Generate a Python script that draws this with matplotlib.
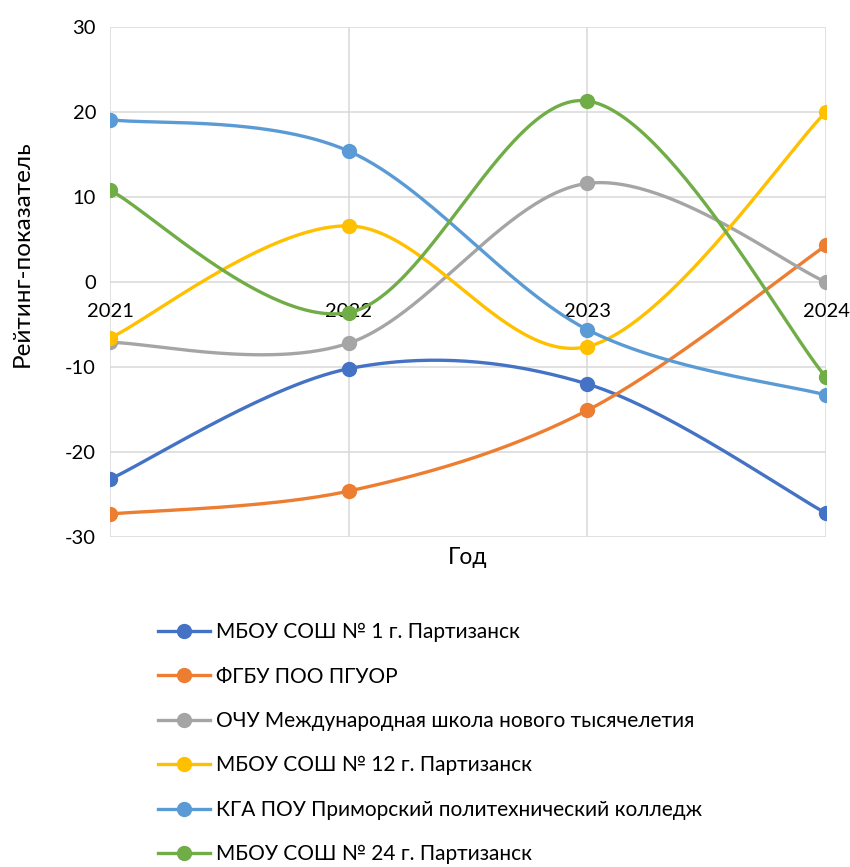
import numpy as np
import matplotlib
matplotlib.use("Agg")
import matplotlib.pyplot as plt
from matplotlib.lines import Line2D

plt.rcParams['font.family'] = ['Lato', 'DejaVu Sans']
plt.rcParams['axes.unicode_minus'] = False

years = ["2021", "2022", "2023", "2024"]
s1 = [-23.2, -10.2, -12.0, -27.2]
s2 = [-27.3, -24.6, -15.1, 4.3]
s3 = [-7.1, -7.2, 11.6, 0.0]
s4 = [-6.6, 6.6, -7.6, 20.0]
s5 = [19.1, 15.4, -5.6, -13.3]
s6 = [10.8, -3.6, 21.3, -11.2]
names = ["МБОУ СОШ № 1 г. Партизанск", "ФГБУ ПОО ПГУОР",
         "ОЧУ Международная школа нового тысячелетия",
         "МБОУ СОШ № 12 г. Партизанск",
         "КГА ПОУ Приморский политехнический колледж",
         "МБОУ СОШ № 24 г. Партизанск"]
colors = ["#4472C4", "#ED7D31", "#A5A5A5", "#FFC000", "#5B9BD5", "#70AD47"]
series = [s1, s2, s3, s4, s5, s6]


def smooth(x, y, n=60):
    x = np.asarray(x, float)
    y = np.asarray(y, float)
    P = np.column_stack([x, y])
    out = []
    m = len(P)
    for i in range(m - 1):
        p0 = P[i - 1] if i > 0 else P[i]
        p1 = P[i]
        p2 = P[i + 1]
        p3 = P[i + 2] if i + 2 < m else P[i + 1]
        c1 = p1 + (p2 - p0) / 6.0
        c2 = p2 - (p3 - p1) / 6.0
        t = np.linspace(0, 1, n)[:, None]
        b = ((1 - t) ** 3) * p1 + 3 * ((1 - t) ** 2) * t * c1 + 3 * (1 - t) * t ** 2 * c2 + t ** 3 * p2
        out.append(b if i == 0 else b[1:])
    b = np.vstack(out)
    return b[:, 0], b[:, 1]


fig = plt.figure(figsize=(8.5, 8.67), dpi=100)
ax = fig.add_axes([110 / 850, 1 - 537 / 867, (826 - 110) / 850, (537 - 27) / 867])

xs = np.arange(len(years))
for ys, c in zip(series, colors):
    sx, sy = smooth(xs, ys)
    ax.plot(sx, sy, color=c, lw=2.4, solid_capstyle='round', zorder=3)
    ax.plot(xs, ys, 'o', color=c, ms=10, zorder=4)

ax.set_xlim(0, 3)
ax.set_ylim(-30, 30)
ax.set_yticks(np.arange(-30, 31, 10))
ax.set_xticks(xs)
ax.set_xticklabels(years)
ax.grid(True, color='#D9D9D9', lw=1.1, zorder=0)
ax.set_axisbelow(True)
for sp in ['top', 'right', 'left']:
    ax.spines[sp].set_visible(False)
ax.spines['bottom'].set_position(('data', 0))
ax.spines['bottom'].set_visible(False)
ax.tick_params(axis='both', length=0, labelsize=14.5, colors='black')
ax.tick_params(axis='x', pad=15)
ax.tick_params(axis='y', pad=10)
for lab in ax.get_xticklabels():
    lab.set_clip_on(False)

fig.text(468 / 850, 1 - 558 / 867, "Год", ha='center', va='center', fontsize=16.5)
fig.text(22 / 850, 1 - 254 / 867, "Рейтинг-показатель", ha='center', va='center',
         rotation=90, fontsize=17.5)

handles = [Line2D([0], [0], color=c, lw=2.4, marker='o', ms=10) for c in colors]
leg = fig.legend(handles, names, loc='upper left', bbox_to_anchor=(150 / 850, 1 - 614 / 867),
                 frameon=False, fontsize=15, handlelength=2.5, handletextpad=0.25,
                 labelspacing=1.17, borderaxespad=0)

fig.savefig("out.png", dpi=100)
